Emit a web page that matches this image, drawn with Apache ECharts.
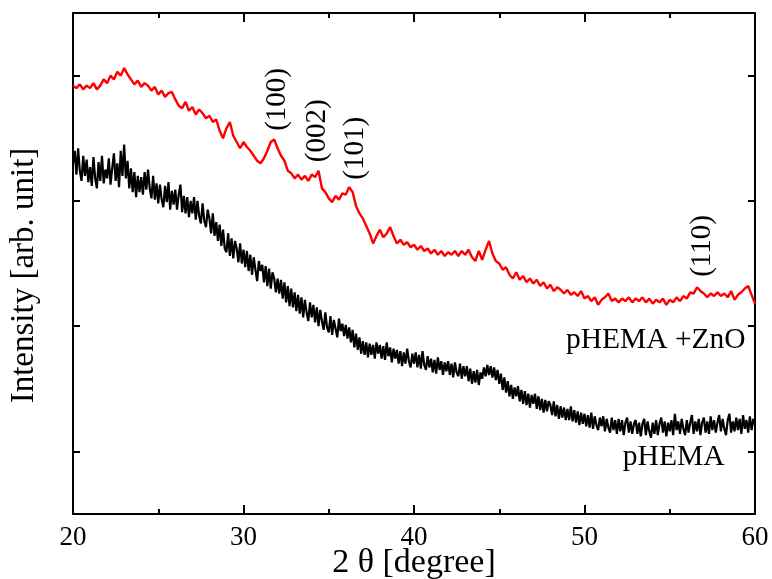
<!DOCTYPE html>
<html>
<head>
<meta charset="utf-8">
<script src="https://cdn.jsdelivr.net/npm/echarts@6/dist/echarts.min.js"></script>
<style>html,body{margin:0;padding:0;background:#fff}#c{width:772px;height:579px}</style>
</head>
<body>
<div id="c"></div>
<script>
// 2θ sampling: start 20°; red sampled every 0.2°, black every 0.1°
const angleStart = 20;
const znoStep = 0.2;
const phemaStep = 0.1;
const xTicks = [20, 30, 40, 50, 60];

// pHEMA + ZnO (red), arb. units, 201 samples
const znoValues = [
  3.42,3.40,3.43,3.39,3.42,3.40,3.44,3.39,3.42,3.47,
  3.44,3.50,3.47,3.53,3.50,3.56,3.51,3.47,3.43,3.46,
  3.41,3.44,3.42,3.38,3.41,3.35,3.38,3.33,3.36,3.37,
  3.31,3.26,3.24,3.29,3.22,3.25,3.19,3.23,3.20,3.16,
  3.18,3.13,3.15,3.06,3.00,3.08,3.13,3.02,2.97,2.92,
  2.97,2.93,2.90,2.86,2.82,2.80,2.84,2.90,2.97,2.99,
  2.92,2.86,2.82,2.74,2.72,2.68,2.71,2.67,2.70,2.66,
  2.71,2.69,2.74,2.60,2.57,2.52,2.49,2.54,2.51,2.56,
  2.55,2.61,2.57,2.46,2.40,2.36,2.30,2.24,2.16,2.22,
  2.27,2.21,2.24,2.29,2.22,2.16,2.19,2.15,2.17,2.13,
  2.15,2.11,2.14,2.10,2.12,2.08,2.11,2.07,2.10,2.06,
  2.09,2.07,2.10,2.06,2.10,2.07,2.11,2.05,2.02,2.10,
  2.03,2.11,2.18,2.08,2.02,2.00,1.95,1.97,1.91,1.88,
  1.93,1.87,1.90,1.85,1.88,1.84,1.87,1.82,1.85,1.80,
  1.83,1.78,1.81,1.79,1.76,1.79,1.75,1.77,1.74,1.78,
  1.72,1.74,1.70,1.73,1.67,1.71,1.73,1.76,1.70,1.72,
  1.69,1.72,1.70,1.73,1.69,1.72,1.70,1.73,1.69,1.72,
  1.68,1.71,1.69,1.72,1.67,1.71,1.69,1.73,1.70,1.74,
  1.72,1.77,1.76,1.81,1.78,1.76,1.73,1.76,1.74,1.77,
  1.74,1.76,1.73,1.78,1.71,1.75,1.77,1.80,1.82,1.75,
  1.68
];

// pHEMA (black), arb. units, 401 samples (one row per degree)
const phemaValues = [
  2.80,2.90,2.71,2.92,2.74,2.66,2.86,2.70,2.83,2.65,
  2.77,2.62,2.85,2.68,2.60,2.81,2.66,2.86,2.64,2.75,
  2.68,2.84,2.63,2.76,2.88,2.66,2.80,2.61,2.90,2.70,
  2.95,2.68,2.82,2.60,2.76,2.57,2.73,2.53,2.70,2.57,
  2.69,2.55,2.73,2.59,2.75,2.60,2.52,2.70,2.51,2.64,
  2.48,2.63,2.51,2.45,2.62,2.49,2.65,2.43,2.58,2.47,
  2.59,2.43,2.55,2.63,2.41,2.54,2.40,2.53,2.37,2.50,
  2.40,2.53,2.35,2.50,2.38,2.32,2.48,2.34,2.29,2.43,
  2.36,2.24,2.40,2.22,2.33,2.18,2.31,2.14,2.27,2.12,
  2.09,2.24,2.06,2.20,2.04,2.18,2.12,2.01,2.16,2.00,
  2.11,1.97,2.10,1.94,2.07,1.91,2.05,1.95,1.86,2.02,
  1.94,1.99,1.85,1.98,1.82,1.96,1.80,1.93,1.88,1.77,
  1.88,1.76,1.87,1.72,1.85,1.69,1.82,1.66,1.80,1.65,
  1.77,1.62,1.75,1.60,1.73,1.57,1.71,1.61,1.54,1.69,
  1.57,1.67,1.53,1.65,1.50,1.63,1.54,1.47,1.61,1.49,
  1.45,1.58,1.43,1.55,1.48,1.41,1.56,1.46,1.52,1.42,
  1.51,1.40,1.49,1.37,1.47,1.33,1.44,1.31,1.41,1.28,
  1.38,1.27,1.37,1.25,1.36,1.27,1.35,1.24,1.37,1.28,
  1.35,1.24,1.34,1.23,1.37,1.26,1.33,1.21,1.32,1.24,
  1.31,1.20,1.30,1.18,1.29,1.20,1.32,1.22,1.17,1.28,
  1.20,1.29,1.17,1.27,1.16,1.30,1.19,1.15,1.26,1.17,
  1.24,1.13,1.23,1.12,1.25,1.15,1.22,1.11,1.21,1.14,
  1.22,1.11,1.20,1.09,1.21,1.13,1.10,1.20,1.08,1.18,
  1.10,1.18,1.06,1.16,1.04,1.14,1.05,1.15,1.03,1.13,
  1.08,1.17,1.10,1.19,1.11,1.18,1.09,1.17,1.07,1.15,
  1.04,1.12,0.99,1.09,0.97,1.06,0.94,1.03,0.92,1.01,
  0.94,1.02,0.90,0.99,0.88,0.98,0.87,0.96,0.85,0.95,
  0.88,0.96,0.84,0.94,0.83,0.92,0.81,0.91,0.82,0.90,
  0.87,0.79,0.90,0.78,0.87,0.76,0.86,0.77,0.85,0.75,
  0.84,0.75,0.86,0.74,0.83,0.73,0.82,0.71,0.81,0.72,
  0.80,0.70,0.79,0.69,0.81,0.68,0.78,0.71,0.67,0.77,
  0.70,0.78,0.66,0.76,0.69,0.65,0.77,0.67,0.75,0.64,
  0.76,0.66,0.75,0.63,0.73,0.77,0.65,0.74,0.64,0.72,
  0.75,0.64,0.73,0.62,0.72,0.76,0.63,0.74,0.66,0.61,
  0.73,0.64,0.75,0.63,0.72,0.77,0.65,0.74,0.62,0.73,
  0.66,0.75,0.63,0.80,0.67,0.74,0.64,0.76,0.68,0.63,
  0.75,0.65,0.73,0.79,0.64,0.74,0.66,0.76,0.63,0.73,
  0.77,0.65,0.74,0.64,0.78,0.67,0.75,0.65,0.73,0.79,
  0.66,0.76,0.68,0.63,0.75,0.80,0.65,0.74,0.66,0.77,
  0.67,0.76,0.64,0.79,0.68,0.75,0.65,0.78,0.67,0.76,
  0.71
];

// y tick positions (unlabelled)
const yTicks = [0.5, 1.5, 2.5, 3.5];

// peak annotations (Miller indices) and their label anchor positions
const peakLabels = ['(100)', '(002)', '(101)', '(110)'];
const peakX = [31.98, 34.33, 36.56, 56.93];
const peakY = [3.31, 3.06, 2.92, 2.14];

// curve labels
const curveLabels = ['pHEMA +ZnO', 'pHEMA'];
const curveLabelX = [54.18, 55.23];
const curveLabelY = [1.39, 0.455];

const toPairs = (vals, step) => vals.map((v, i) => [+(angleStart + i * step).toFixed(2), v]);
const FONT = '"Liberation Serif", "Times New Roman", serif';

function xAx(pos, showLabel) {
  return {
    type: 'value', position: pos, min: 20, max: 60, interval: 10,
    axisLine: { show: true, onZero: false, lineStyle: { color: '#000', width: 2 } },
    axisTick: { show: true, inside: true, length: 9, lineStyle: { color: '#000', width: 2 } },
    minorTick: { show: true, splitNumber: 2, length: 5, lineStyle: { color: '#000', width: 2 } },
    axisLabel: { show: showLabel, color: '#000', fontFamily: FONT, fontSize: 27, margin: 10,
      customValues: xTicks },
    splitLine: { show: false },
    name: showLabel ? '2 θ [degree]' : '',
    nameLocation: 'middle', nameGap: 32, nameMoveOverlap: false,
    nameTextStyle: { color: '#000', fontFamily: FONT, fontSize: 34 }
  };
}
function yAx(pos, showName) {
  return {
    type: 'value', position: pos, min: 0, max: 4,
    axisLine: { show: true, onZero: false, lineStyle: { color: '#000', width: 2 } },
    axisTick: { show: true, inside: true, length: 7, customValues: yTicks, lineStyle: { color: '#000', width: 2 } },
    axisLabel: { show: false },
    splitLine: { show: false },
    name: showName ? 'Intensity [arb. unit]' : '',
    nameLocation: 'middle', nameGap: 32, nameRotate: 90,
    nameTextStyle: { color: '#000', fontFamily: FONT, fontSize: 33, padding: [0, 24, 0, 0] }
  };
}

const labelBase = { show: true, position: 'inside', color: '#000', opacity: 1,
  fontFamily: FONT, textBorderWidth: 0 };

const chart = echarts.init(document.getElementById('c'), null, { renderer: 'canvas' });
chart.setOption({
  backgroundColor: '#fff',
  animation: false,
  grid: { left: 73, right: 17, top: 13, bottom: 65, containLabel: false, outerBoundsMode: 'none' },
  xAxis: [xAx('bottom', true), xAx('top', false)],
  yAxis: [yAx('left', true), yAx('right', false)],
  series: [
    { type: 'line', data: toPairs(phemaValues, phemaStep), showSymbol: false, symbol: 'none',
      lineStyle: { color: '#000', width: 2.2 }, z: 2 },
    { type: 'line', data: toPairs(znoValues, znoStep), showSymbol: false, symbol: 'none',
      lineStyle: { color: '#ff0000', width: 2.4 }, z: 3 },
    { type: 'scatter', symbolSize: 0, silent: true, z: 5, itemStyle: { opacity: 1 },
      data: peakLabels.map((t, i) => [peakX[i], peakY[i], t]),
      label: Object.assign({}, labelBase, { rotate: 90, fontSize: 29, formatter: p => p.value[2] }) },
    { type: 'scatter', symbolSize: 0, silent: true, z: 5, itemStyle: { opacity: 1 },
      data: curveLabels.map((t, i) => [curveLabelX[i], curveLabelY[i], t]),
      label: Object.assign({}, labelBase, { fontSize: 29.5, formatter: p => p.value[2] }) }
  ]
});
</script>
</body>
</html>
